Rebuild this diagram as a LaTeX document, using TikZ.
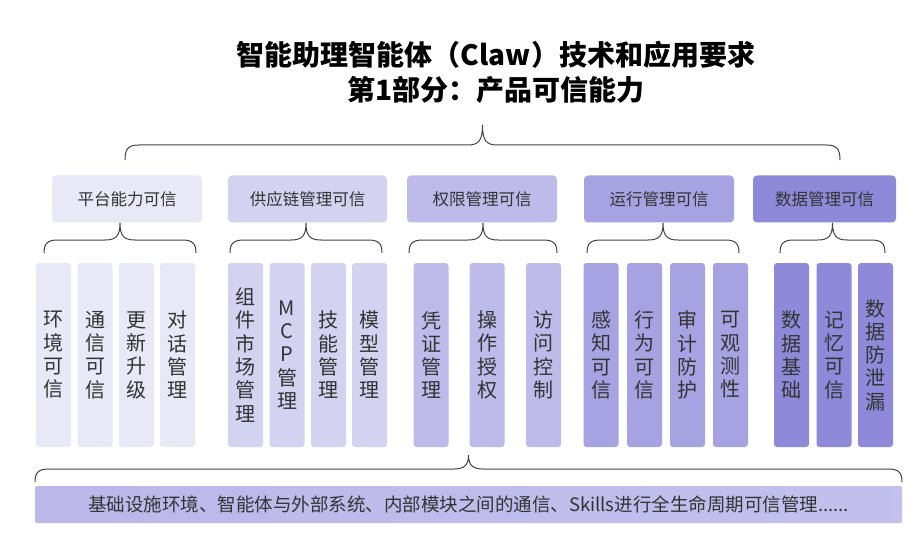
\documentclass[tikz,border=0pt]{standalone}
\usepackage{fontspec}
\setmainfont{Noto Sans CJK SC}
\usepackage{xcolor}

\definecolor{lvA}{HTML}{E9E8F7}
\definecolor{lvB}{HTML}{D4D2F1}
\definecolor{lvC}{HTML}{BEBBEB}
\definecolor{lvD}{HTML}{A7A3E3}
\definecolor{lvE}{HTML}{8E8AD9}
\definecolor{txt}{HTML}{333333}
\definecolor{brc}{HTML}{444444}

\tikzset{
    catbox/.style={fill=#1, rounded corners=4pt, minimum width=150pt,
        minimum height=47pt, inner sep=0pt, text=txt,
        font=\fontsize{16.5}{18}\selectfont},
    colbox/.style={fill=#1, rounded corners=3pt, minimum width=35pt,
        minimum height=184pt, inner sep=0pt, align=center, text=txt,
        font=\fontsize{20}{23.3}\selectfont},
    brcline/.style={draw=brc, line width=1pt}
}

% #1 left x, #2 right x, #3 y of the ends, #4 y of the bar, #5 y of the tip
\newcommand{\brcdraw}[5]{%
    \draw[brcline] (#1,#3) .. controls (#1,{#4+3}) and ({#1+4},#4) .. ({#1+14},#4)
        -- ({(#1+#2)/2-15},#4) .. controls ({(#1+#2)/2-4},#4) and ({(#1+#2)/2},{#4-4}) .. ({(#1+#2)/2},#5)
        .. controls ({(#1+#2)/2},{#4-4}) and ({(#1+#2)/2+4},#4) .. ({(#1+#2)/2+15},#4)
        -- ({#2-14},#4) .. controls ({#2-4},#4) and (#2,{#4+3}) .. (#2,#3);}

\begin{document}
\begin{tikzpicture}[x=1pt, y=-1pt]
    \fill[white] (0,0) rectangle (918,540);
    \useasboundingbox (0,0) rectangle (918,540);

    \node[font=\bfseries\fontsize{28}{35}\selectfont, align=center, text=black]
        (title) at (496,72) {智能助理智能体（Claw）技术和应用要求\\第1部分：产品可信能力};

    \brcdraw{125}{840}{160}{145}{125}

    \node[catbox=lvA] (cat1) at (127,199) {平台能力可信};
    \node[catbox=lvB, minimum width=159pt] (cat2) at (307.5,199) {供应链管理可信};
    \node[catbox=lvC] (cat3) at (482,199) {权限管理可信};
    \node[catbox=lvD] (cat4) at (659,199) {运行管理可信};
    \node[catbox=lvE, minimum width=143pt] (cat5) at (824.5,199) {数据管理可信};

    \brcdraw{44}{196}{253}{240}{223}
    \brcdraw{230}{382}{253}{240}{223}
    \brcdraw{409}{557}{253}{240}{223}
    \brcdraw{587}{739}{253}{240}{223}
    \brcdraw{780}{885}{253}{240}{223}

    % platform
    \node[colbox=lvA] (p1) at (53.5,355) {环\\境\\可\\信};
    \node[colbox=lvA] (p2) at (95,355) {通\\信\\可\\信};
    \node[colbox=lvA] (p3) at (136.5,355) {更\\新\\升\\级};
    \node[colbox=lvA] (p4) at (177.5,355) {对\\话\\管\\理};
    % supply chain
    \node[colbox=lvB] (s1) at (245.5,355) {组\\件\\市\\场\\管\\理};
    \node[colbox=lvB] (s2) at (287,355) {M\\C\\P\\管\\理};
    \node[colbox=lvB] (s3) at (328.5,355) {技\\能\\管\\理};
    \node[colbox=lvB] (s4) at (369.5,355) {模\\型\\管\\理};
    % permission
    \node[colbox=lvC] (q1) at (431,355) {凭\\证\\管\\理};
    \node[colbox=lvC] (q2) at (487,355) {操\\作\\授\\权};
    \node[colbox=lvC] (q3) at (543.5,355) {访\\问\\控\\制};
    % runtime
    \node[colbox=lvD] (r1) at (601,355) {感\\知\\可\\信};
    \node[colbox=lvD] (r2) at (644.5,355) {行\\为\\可\\信};
    \node[colbox=lvD] (r3) at (687.5,355) {审\\计\\防\\护};
    \node[colbox=lvD] (r4) at (730.5,355) {可\\观\\测\\性};
    % data
    \node[colbox=lvE] (d1) at (791.5,355) {数\\据\\基\\础};
    \node[colbox=lvE] (d2) at (834,355) {记\\忆\\可\\信};
    \node[colbox=lvE] (d3) at (875.5,355) {数\\据\\防\\泄\\漏};

    \brcdraw{35}{902}{482}{469}{455}

    \node[left color=lvC!90!lvD, middle color=lvE!95!lvD, right color=lvC!80!lvB,
        rounded corners=2pt, minimum width=867pt, minimum height=37pt, inner sep=0pt,
        text=txt, font=\fontsize{18.5}{20}\selectfont]
        (base) at (468.5,504.5) {基础设施环境、智能体与外部系统、内部模块之间的通信、Skills进行全生命周期可信管理......};
\end{tikzpicture}
\end{document}
